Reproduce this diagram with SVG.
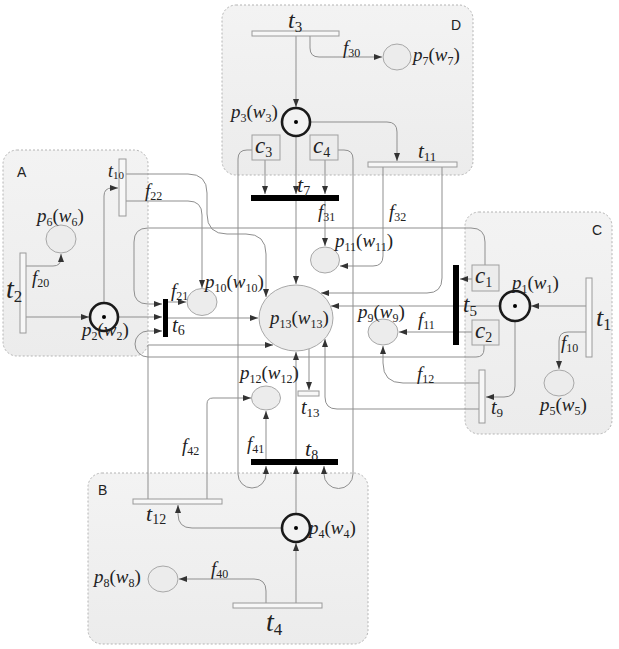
<svg xmlns="http://www.w3.org/2000/svg" width="619" height="649" viewBox="0 0 619 649">
<defs>
<marker id="ah" markerWidth="8" markerHeight="6" refX="8" refY="3" orient="auto" markerUnits="userSpaceOnUse"><path d="M0,0 L8,3 L0,6 z" fill="#333"/></marker>
<linearGradient id="rg" x1="0" y1="0" x2="0" y2="1"><stop offset="0" stop-color="#f3f3f3"/><stop offset="1" stop-color="#ececec"/></linearGradient>
</defs>
<style>
.rg{fill:url(#rg);stroke:#b4b4b4;stroke-width:1;stroke-dasharray:2 2}
.cn path{fill:none;stroke:#8f8f8f;stroke-width:1}
.cn .a{marker-end:url(#ah)}
.pl{fill:#ececec;stroke:#a8a8a8;stroke-width:1}
.mk{fill:#f2f2f2;stroke:#1a1a1a;stroke-width:2.6}
.tl{fill:#f7f7f7;stroke:#9a9a9a;stroke-width:1}
.tb{fill:#000}
.cb{fill:#ececec;stroke:#a0a0a0;stroke-width:1}
text{font-family:"Liberation Serif","Times New Roman",serif;fill:#222}
.l{font-size:19px}
.i{font-style:italic}
.s{font-size:12px}
.rl{font-family:"Liberation Sans",Arial,sans-serif;font-size:14px}
</style>
<rect width="619" height="649" fill="#fff"/>
<g id="regions">
<rect id="regionD" class="rg" x="222" y="5" width="251" height="170" rx="14"/>
<rect id="regionA" class="rg" x="3" y="150" width="145" height="206" rx="14"/>
<rect id="regionC" class="rg" x="465" y="212" width="147" height="222" rx="14"/>
<rect id="regionB" class="rg" x="88" y="473" width="280" height="171" rx="14"/>
<text class="rl" x="451" y="30">D</text>
<text class="rl" x="17" y="177">A</text>
<text class="rl" x="592" y="235">C</text>
<text class="rl" x="98" y="495">B</text>
</g>
<g id="connectors" class="cn">
<path class="a" d="M296,36 V107"/>
<path class="a" d="M310,36 V48 Q310,57 319,57 H382"/>
<path class="a" d="M310,122 H387 Q397,122 397,132 V161"/>
<path class="a" d="M296,136 V194"/>
<path class="a" d="M296,201 V284"/>
<path class="a" d="M265,160 V194"/>
<path class="a" d="M325,160 V194"/>
<path class="a" d="M252,150 H247 Q238,150 238,159 V474 A14,14 0 0 0 266,474 V466"/>
<path class="a" d="M338,150 H344 Q353,150 353,159 V474 A14.5,14.5 0 0 1 324,474 V466"/>
<path class="a" d="M325,201 V246"/>
<path class="a" d="M383,167 V256 Q383,266 373,266 H340"/>
<path class="a" d="M442,167 V278 Q442,293 427,293 H321"/>
<path class="a" d="M126,174 H188 Q207,174 207,193 V214 Q207,234 227,234 H246 Q266,234 266,254 V297"/>
<path class="a" d="M126,201 H188 Q202,201 202,215 V288"/>
<path class="a" d="M104,303 V196 Q104,188 112,188 H118"/>
<path class="a" d="M26,266 H53 Q61,266 61,258 V254"/>
<path class="a" d="M26,317 H89"/>
<path class="a" d="M118,317 H162"/>
<path class="a" d="M485,265 V242 Q485,228 471,228 H148 Q134,228 134,242 V290 Q134,304 148,304 H162"/>
<path class="a" d="M484,345 V349 Q484,357 476,357 H148 A13,13 0 0 1 148,331 H162"/>
<path class="a" d="M148,499 V345 H273"/>
<path class="a" d="M168,318 H258"/>
<path class="a" d="M168,302 H186"/>
<path class="a" d="M586,306 H531"/>
<path d="M500,306 H459"/>
<path class="a" d="M453,306 H331"/>
<path class="a" d="M472,279 H460"/>
<path d="M472,332 H459"/>
<path class="a" d="M453,332 H399"/>
<path class="a" d="M586,332 H568 Q559,332 559,341 V369"/>
<path class="a" d="M515,321 V386 Q515,397 504,397 H486"/>
<path class="a" d="M479,383 H403 Q383,383 383,363 V346"/>
<path class="a" d="M479,409 H337 Q325,409 325,397 V339"/>
<path class="a" d="M309,349 V390"/>
<path class="a" d="M296,459 V352"/>
<path class="a" d="M296,514 V466"/>
<path class="a" d="M266,459 V411"/>
<path class="a" d="M207,499 V404 Q207,398 213,398 H251"/>
<path class="a" d="M282,528 H192 Q178,528 178,514 V505"/>
<path class="a" d="M296,603 V543"/>
<path class="a" d="M266,603 V591 Q266,579 254,579 H179"/>
</g>
<g id="arc-labels">
<text x="343" y="54"><tspan class="i" font-size="19">f</tspan><tspan class="s" dy="3">30</tspan></text>
<text x="318" y="218"><tspan class="i" font-size="19">f</tspan><tspan class="s" dy="3">31</tspan></text>
<text x="389" y="218"><tspan class="i" font-size="19">f</tspan><tspan class="s" dy="3">32</tspan></text>
<text x="145" y="197"><tspan class="i" font-size="19">f</tspan><tspan class="s" dy="3">22</tspan></text>
<text x="32" y="284"><tspan class="i" font-size="19">f</tspan><tspan class="s" dy="3">20</tspan></text>
<text x="171" y="297"><tspan class="i" font-size="19">f</tspan><tspan class="s" dy="3">21</tspan></text>
<text x="418" y="326"><tspan class="i" font-size="19">f</tspan><tspan class="s" dy="3">11</tspan></text>
<text x="561" y="349"><tspan class="i" font-size="19">f</tspan><tspan class="s" dy="3">10</tspan></text>
<text x="417" y="380"><tspan class="i" font-size="19">f</tspan><tspan class="s" dy="3">12</tspan></text>
<text x="182" y="452"><tspan class="i" font-size="19">f</tspan><tspan class="s" dy="3">42</tspan></text>
<text x="247" y="450"><tspan class="i" font-size="19">f</tspan><tspan class="s" dy="3">41</tspan></text>
<text x="211" y="575"><tspan class="i" font-size="19">f</tspan><tspan class="s" dy="3">40</tspan></text>
</g>
<g id="t3"><rect class="tl" x="252" y="31" width="87" height="5"/><text x="288" y="28"><tspan class="i" font-size="24">t</tspan><tspan font-size="15" dy="4">3</tspan></text></g>
<g id="t11"><rect class="tl" x="368" y="162" width="89" height="5"/><text x="418" y="158"><tspan class="i" font-size="21">t</tspan><tspan font-size="13" dy="3">11</tspan></text></g>
<g id="t7"><rect class="tb" x="251" y="195" width="88" height="6"/><text x="297" y="192"><tspan class="i" font-size="22">t</tspan><tspan font-size="14" dy="4">7</tspan></text></g>
<g id="t10"><rect class="tl" x="119" y="159" width="7" height="57"/><text x="108" y="177"><tspan class="i" font-size="18">t</tspan><tspan font-size="11" dy="2">10</tspan></text></g>
<g id="t2"><rect class="tl" x="20" y="253" width="6" height="80"/><text x="6" y="298"><tspan class="i" font-size="28">t</tspan><tspan font-size="17" dy="4">2</tspan></text></g>
<g id="t6"><rect class="tb" x="163" y="299" width="5" height="38"/><text x="172" y="332"><tspan class="i" font-size="21">t</tspan><tspan font-size="14" dy="3">6</tspan></text></g>
<g id="t5"><rect class="tb" x="453" y="265" width="6" height="80"/><text x="463" y="312"><tspan class="i" font-size="23">t</tspan><tspan font-size="15" dy="4">5</tspan></text></g>
<g id="t1"><rect class="tl" x="586" y="278" width="6" height="79"/><text x="596" y="326"><tspan class="i" font-size="26">t</tspan><tspan font-size="16" dy="4">1</tspan></text></g>
<g id="t9"><rect class="tl" x="479" y="370" width="6" height="53"/><text x="491" y="414"><tspan class="i" font-size="20">t</tspan><tspan font-size="13" dy="3">9</tspan></text></g>
<g id="t13"><rect class="tl" x="298" y="391" width="21" height="5"/><text x="301" y="414"><tspan class="i" font-size="20">t</tspan><tspan font-size="13" dy="3">13</tspan></text></g>
<g id="t8"><rect class="tb" x="251" y="459" width="87" height="6"/><text x="305" y="456"><tspan class="i" font-size="22">t</tspan><tspan font-size="14" dy="4">8</tspan></text></g>
<g id="t12"><rect class="tl" x="133" y="499" width="89" height="5"/><text x="146" y="521"><tspan class="i" font-size="22">t</tspan><tspan font-size="14" dy="3">12</tspan></text></g>
<g id="t4"><rect class="tl" x="233" y="603" width="89" height="5"/><text x="266" y="631"><tspan class="i" font-size="28">t</tspan><tspan font-size="17" dy="4">4</tspan></text></g>
<g id="c3"><rect class="cb" x="252" y="135" width="28" height="25"/><text x="255" y="153"><tspan class="i" font-size="23">c</tspan><tspan font-size="14" dy="4">3</tspan></text></g>
<g id="c4"><rect class="cb" x="310" y="135" width="28" height="25"/><text x="313" y="153"><tspan class="i" font-size="23">c</tspan><tspan font-size="14" dy="4">4</tspan></text></g>
<g id="c1"><rect class="cb" x="472" y="265" width="27" height="26"/><text x="475" y="283"><tspan class="i" font-size="23">c</tspan><tspan font-size="14" dy="4">1</tspan></text></g>
<g id="c2"><rect class="cb" x="472" y="320" width="27" height="25"/><text x="475" y="338"><tspan class="i" font-size="23">c</tspan><tspan font-size="14" dy="4">2</tspan></text></g>
<g id="p7"><ellipse class="pl" cx="397" cy="57" rx="14" ry="13"/><text class="l" x="413" y="61"><tspan class="i">p</tspan><tspan class="s" dy="4">7</tspan><tspan dy="-4">(</tspan><tspan class="i">w</tspan><tspan class="s" dy="4">7</tspan><tspan dy="-4">)</tspan></text></g>
<g id="p3"><circle class="mk" cx="296" cy="122" r="14"/><circle cx="296" cy="122" r="2" fill="#000"/><text class="l" x="231" y="118"><tspan class="i">p</tspan><tspan class="s" dy="4">3</tspan><tspan dy="-4">(</tspan><tspan class="i">w</tspan><tspan class="s" dy="4">3</tspan><tspan dy="-4">)</tspan></text></g>
<g id="p11"><ellipse class="pl" cx="325" cy="260" rx="14.5" ry="13"/><text class="l" x="335" y="247"><tspan class="i">p</tspan><tspan class="s" dy="4">11</tspan><tspan dy="-4">(</tspan><tspan class="i">w</tspan><tspan class="s" dy="4">11</tspan><tspan dy="-4">)</tspan></text></g>
<g id="p10"><ellipse class="pl" cx="202" cy="302" rx="15" ry="13.5"/><text class="l" x="205" y="288"><tspan class="i">p</tspan><tspan class="s" dy="4">10</tspan><tspan dy="-4">(</tspan><tspan class="i">w</tspan><tspan class="s" dy="4">10</tspan><tspan dy="-4">)</tspan></text></g>
<g id="p13"><ellipse class="pl" cx="296" cy="318" rx="37" ry="33"/><text class="l" x="270" y="324"><tspan class="i">p</tspan><tspan class="s" dy="4">13</tspan><tspan dy="-4">(</tspan><tspan class="i">w</tspan><tspan class="s" dy="4">13</tspan><tspan dy="-4">)</tspan></text></g>
<g id="p6"><ellipse class="pl" cx="61" cy="239" rx="15" ry="14"/><text class="l" x="37" y="222"><tspan class="i">p</tspan><tspan class="s" dy="4">6</tspan><tspan dy="-4">(</tspan><tspan class="i">w</tspan><tspan class="s" dy="4">6</tspan><tspan dy="-4">)</tspan></text></g>
<g id="p2"><circle class="mk" cx="104" cy="317" r="14"/><circle cx="104" cy="317" r="2" fill="#000"/><text class="l" x="82" y="336"><tspan class="i">p</tspan><tspan class="s" dy="4">2</tspan><tspan dy="-4">(</tspan><tspan class="i">w</tspan><tspan class="s" dy="4">2</tspan><tspan dy="-4">)</tspan></text></g>
<g id="p9"><ellipse class="pl" cx="383" cy="332" rx="15" ry="13"/><text class="l" x="358" y="318"><tspan class="i">p</tspan><tspan class="s" dy="4">9</tspan><tspan dy="-4">(</tspan><tspan class="i">w</tspan><tspan class="s" dy="4">9</tspan><tspan dy="-4">)</tspan></text></g>
<g id="p1"><circle class="mk" cx="515" cy="306" r="15"/><circle cx="515" cy="306" r="2" fill="#000"/><text class="l" x="512" y="289"><tspan class="i">p</tspan><tspan class="s" dy="4">1</tspan><tspan dy="-4">(</tspan><tspan class="i">w</tspan><tspan class="s" dy="4">1</tspan><tspan dy="-4">)</tspan></text></g>
<g id="p5"><ellipse class="pl" cx="559" cy="383" rx="15" ry="13"/><text class="l" x="540" y="411"><tspan class="i">p</tspan><tspan class="s" dy="4">5</tspan><tspan dy="-4">(</tspan><tspan class="i">w</tspan><tspan class="s" dy="4">5</tspan><tspan dy="-4">)</tspan></text></g>
<g id="p12"><ellipse class="pl" cx="266" cy="398" rx="14.5" ry="12"/><text class="l" x="240" y="379"><tspan class="i">p</tspan><tspan class="s" dy="4">12</tspan><tspan dy="-4">(</tspan><tspan class="i">w</tspan><tspan class="s" dy="4">12</tspan><tspan dy="-4">)</tspan></text></g>
<g id="p4"><circle class="mk" cx="296" cy="528" r="14"/><circle cx="296" cy="528" r="2" fill="#000"/><text class="l" x="309" y="534"><tspan class="i">p</tspan><tspan class="s" dy="4">4</tspan><tspan dy="-4">(</tspan><tspan class="i">w</tspan><tspan class="s" dy="4">4</tspan><tspan dy="-4">)</tspan></text></g>
<g id="p8"><ellipse class="pl" cx="163" cy="579" rx="15" ry="13"/><text class="l" x="94" y="583"><tspan class="i">p</tspan><tspan class="s" dy="4">8</tspan><tspan dy="-4">(</tspan><tspan class="i">w</tspan><tspan class="s" dy="4">8</tspan><tspan dy="-4">)</tspan></text></g>
</svg>
